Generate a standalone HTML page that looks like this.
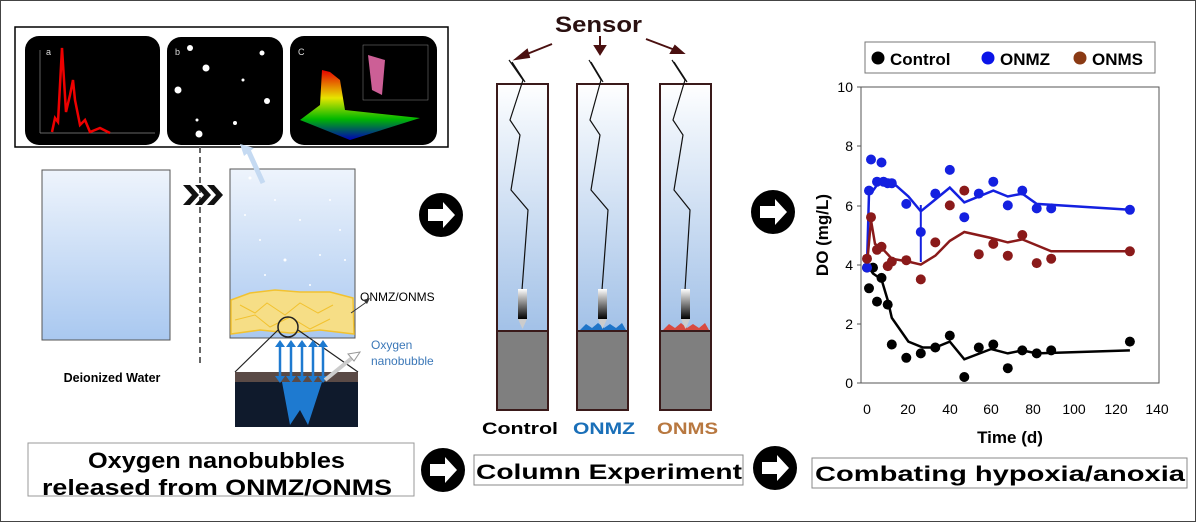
<!DOCTYPE html>
<html><head><meta charset="utf-8"><style>
html,body{margin:0;padding:0;background:#fff}
svg{display:block;font-family:"Liberation Sans",sans-serif}
</style></head><body>
<svg width="1196" height="531" viewBox="0 0 1196 531" xmlns="http://www.w3.org/2000/svg">
<defs>
<linearGradient id="wg" x1="0" y1="0" x2="0" y2="1"><stop offset="0" stop-color="#eef4fc"/><stop offset="1" stop-color="#a9c8f0"/></linearGradient>
<linearGradient id="cg" x1="0" y1="0" x2="0" y2="1"><stop offset="0" stop-color="#ffffff"/><stop offset="0.12" stop-color="#eef4fb"/><stop offset="1" stop-color="#86aee0"/></linearGradient>
<linearGradient id="pg" x1="0" y1="0" x2="0" y2="1"><stop offset="0" stop-color="#fff"/><stop offset="1" stop-color="#000"/></linearGradient>
<linearGradient id="mg" x1="0" y1="0" x2="0" y2="1"><stop offset="0" stop-color="#f00"/><stop offset="0.4" stop-color="#ff0"/><stop offset="0.7" stop-color="#0c0"/><stop offset="1" stop-color="#00c"/></linearGradient>
<g id="arr"><circle r="22" fill="#000"/><path d="M-13,-6 H2 V-13 L14,0 L2,13 V6 H-13Z" fill="#fff"/></g>
</defs>
<rect x="0.5" y="0.5" width="1195" height="521" fill="#fff" stroke="#444"/>
<!-- top image strip -->
<rect x="15" y="27" width="433" height="120" fill="#fff" stroke="#000" stroke-width="1.5"/>
<rect x="25" y="36" width="135" height="109" rx="14" fill="#000"/>
<rect x="167" y="37" width="116" height="108" rx="14" fill="#000"/>
<rect x="290" y="36" width="147" height="109" rx="14" fill="#000"/>
<text x="46" y="55" fill="#ddd" font-size="9">a</text>
<text x="175" y="55" fill="#ddd" font-size="9">b</text>
<text x="298" y="55" fill="#ddd" font-size="9">C</text>
<path d="M40,133 H155 M40,133 V50" stroke="#888" stroke-width="0.7"/>
<path d="M52,132 L55,118 L58,122 L62,48 L66,112 L70,95 L73,80 L75,100 L80,125 L85,120 L90,132 L100,128 L110,133" stroke="#e00" stroke-width="2.5" fill="none"/>
<g fill="#fff"><circle cx="190" cy="48" r="3"/><circle cx="206" cy="68" r="3.5"/><circle cx="178" cy="90" r="3.5"/><circle cx="262" cy="53" r="2.5"/><circle cx="267" cy="101" r="3"/><circle cx="235" cy="123" r="2"/><circle cx="199" cy="134" r="3.5"/><circle cx="243" cy="80" r="1.5"/><circle cx="197" cy="120" r="1.5"/></g>
<path d="M300,120 L320,105 L322,70 L330,72 L340,80 L345,110 L420,118 L350,140Z" fill="url(#mg)" opacity="0.9"/>
<rect x="363" y="45" width="65" height="55" fill="none" stroke="#888" stroke-width="0.5"/>
<path d="M368,55 L385,60 L382,95 L372,90Z" fill="#f7b" opacity="0.8"/>
<line x1="200" y1="147" x2="200" y2="366" stroke="#666" stroke-width="2" stroke-dasharray="6,4"/>
<rect x="42" y="170" width="128" height="170" fill="url(#wg)" stroke="#555"/>
<text x="112" y="382" font-size="12.5" font-weight="bold" text-anchor="middle">Deionized Water</text>
<g fill="#111"><path d="M183,185 h7 l9,10 l-9,10 h-7 l9,-10z"/><path d="M195,185 h7 l9,10 l-9,10 h-7 l9,-10z"/><path d="M207,185 h7 l9,10 l-9,10 h-7 l9,-10z"/></g>
<rect x="230" y="169" width="125" height="169" fill="url(#wg)" stroke="#555"/>
<g fill="#fff"><circle cx="250" cy="178" r="1.5"/><circle cx="275" cy="200" r="1"/><circle cx="300" cy="220" r="1"/><circle cx="260" cy="240" r="1"/><circle cx="320" cy="255" r="1"/><circle cx="285" cy="260" r="1.5"/><circle cx="340" cy="230" r="1"/><circle cx="265" cy="275" r="1"/><circle cx="310" cy="285" r="1"/><circle cx="345" cy="260" r="1"/><circle cx="245" cy="215" r="1"/><circle cx="330" cy="200" r="1"/></g>
<line x1="263" y1="183" x2="248" y2="150" stroke="#c5daf2" stroke-width="5"/>
<path d="M240,144 L254,148 L244,156Z" fill="#c5daf2"/>
<path d="M231,300 L250,293 L275,290 L300,292 L330,292 L353,298 L354,334 L320,330 L290,333 L260,330 L231,334Z" fill="#f6de86" stroke="#f2c230" stroke-width="1.5"/>
<path d="M240,305 l15,8 l12,-10 l18,12 l15,-12 l18,10 l15,-8 M235,320 l20,-5 l15,12 l20,-10 l20,12 l20,-10" stroke="#f2c230" fill="none"/>
<circle cx="288" cy="327" r="10" fill="none" stroke="#222" stroke-width="1.5"/>
<path d="M278,330 L235,372 M298,330 L358,372" stroke="#222" stroke-width="1.2"/>
<text x="360" y="301" font-size="12">ONMZ/ONMS</text>
<line x1="351" y1="313" x2="368" y2="301" stroke="#333"/>
<path d="M370,298 l-7,2 l4,4z" fill="#333"/>
<rect x="235" y="372" width="123" height="55" fill="#0f1a2c"/>
<rect x="235" y="372" width="123" height="10" fill="#5a4a46"/>
<path d="M282,382 L290,425 L300,410 L308,425 L322,382Z" fill="#1e7ad0"/>
<g stroke="#1e7ad0" stroke-width="2.5">
<line x1="280" y1="345" x2="280" y2="378"/><line x1="291" y1="345" x2="291" y2="378"/><line x1="302" y1="345" x2="302" y2="378"/><line x1="313" y1="345" x2="313" y2="378"/><line x1="323" y1="345" x2="323" y2="378"/>
</g>
<g fill="#1e7ad0"><path d="M275,347 l5,-7 l5,7z M286,347 l5,-7 l5,7z M297,347 l5,-7 l5,7z M308,347 l5,-7 l5,7z M318,347 l5,-7 l5,7z M275,376 l5,7 l5,-7z M286,376 l5,7 l5,-7z M297,376 l5,7 l5,-7z M308,376 l5,7 l5,-7z M318,376 l5,7 l5,-7z"/></g>
<line x1="325" y1="380" x2="352" y2="358" stroke="#ccc" stroke-width="4"/>
<path d="M360,352 l-12,2 l6,7z" fill="#fff" stroke="#999"/>
<text x="371" y="349" font-size="12" fill="#3c78b8">Oxygen</text>
<text x="371" y="365" font-size="12" fill="#3c78b8">nanobubble</text>
<rect x="28" y="443" width="386" height="53" fill="#fff" stroke="#999"/>
<text x="88" y="468" font-size="22" font-weight="bold" textLength="257" lengthAdjust="spacingAndGlyphs">Oxygen nanobubbles</text>
<text x="42" y="495" font-size="22" font-weight="bold" textLength="350" lengthAdjust="spacingAndGlyphs">released from ONMZ/ONMS</text>
<use href="#arr" x="441" y="215"/>
<use href="#arr" x="773" y="212"/>
<use href="#arr" x="443" y="470"/>
<use href="#arr" x="775" y="468"/>
<text x="555" y="32" font-size="22" font-weight="bold" fill="#2a1010" textLength="87" lengthAdjust="spacingAndGlyphs">Sensor</text>
<g stroke="#4a1010" stroke-width="2" fill="#4a1010">
<line x1="552" y1="44" x2="522" y2="56"/><path d="M516,59 l11,-9 l2,7z"/>
<line x1="600" y1="36" x2="600" y2="48"/><path d="M595,46 h10 l-5,8z"/>
<line x1="646" y1="39" x2="675" y2="50"/><path d="M683,53 l-12,0 l4,-7z"/>
</g>
<g stroke="#3a1a1a" stroke-width="2">
<rect x="497" y="84" width="51" height="326" fill="url(#cg)"/>
<rect x="577" y="84" width="51" height="326" fill="url(#cg)"/>
<rect x="660" y="84" width="51" height="326" fill="url(#cg)"/>
</g>
<rect x="497" y="331" width="51" height="79" fill="#7f7f7f" stroke="#3a1a1a" stroke-width="2"/>
<rect x="577" y="331" width="51" height="79" fill="#7f7f7f" stroke="#3a1a1a" stroke-width="2"/>
<rect x="660" y="331" width="51" height="79" fill="#7f7f7f" stroke="#3a1a1a" stroke-width="2"/>
<path d="M580,330 l6,-6 l6,4 l6,-5 l6,5 l6,-4 l6,4 l6,-5 l4,7z" fill="#1e74c8"/>
<path d="M663,330 l6,-6 l6,4 l6,-5 l6,5 l6,-4 l6,4 l6,-5 l4,7z" fill="#d84a40"/>
<g fill="none" stroke="#111" stroke-width="1.2">
<path d="M509,60 L523,80 L510,120 L520,135 L511,190 L528,210 L522,290 M512,62 L525,82"/>
<path d="M589,60 L601,80 L590,120 L600,135 L591,190 L608,210 L602,290 M591,62 L603,82"/>
<path d="M672,60 L685,80 L673,120 L683,135 L674,190 L690,210 L685,290 M674,62 L687,82"/>
</g>
<rect x="518" y="289" width="9" height="30" fill="url(#pg)"/><path d="M518,319 h9 l-4.5,10z" fill="#ccc"/>
<rect x="598" y="289" width="9" height="30" fill="url(#pg)"/><path d="M598,319 h9 l-4.5,10z" fill="#ccc"/>
<rect x="681" y="289" width="9" height="30" fill="url(#pg)"/><path d="M681,319 h9 l-4.5,10z" fill="#ccc"/>
<text x="482" y="434" font-size="17" font-weight="bold" textLength="76" lengthAdjust="spacingAndGlyphs">Control</text>
<text x="573" y="434" font-size="17" font-weight="bold" fill="#1a6fb8" textLength="62" lengthAdjust="spacingAndGlyphs">ONMZ</text>
<text x="657" y="434" font-size="17" font-weight="bold" fill="#b87840" textLength="61" lengthAdjust="spacingAndGlyphs">ONMS</text>
<rect x="474" y="455" width="269" height="30" fill="#fff" stroke="#888"/>
<text x="476" y="479" font-size="21" font-weight="bold" textLength="266" lengthAdjust="spacingAndGlyphs">Column Experiment</text>
<rect x="812" y="458" width="375" height="30" fill="#fff" stroke="#888"/>
<text x="815" y="481" font-size="21" font-weight="bold" textLength="370" lengthAdjust="spacingAndGlyphs">Combating hypoxia/anoxia</text>
<!-- chart -->
<rect x="865" y="42" width="290" height="31" fill="#fff" stroke="#777"/>
<circle cx="878" cy="58" r="6.5" fill="#000"/><text x="890" y="65" font-size="17" font-weight="bold">Control</text>
<circle cx="988" cy="58" r="6.5" fill="#0a14e8"/><text x="1000" y="65" font-size="17" font-weight="bold">ONMZ</text>
<circle cx="1080" cy="58" r="6.5" fill="#8a3a14"/><text x="1092" y="65" font-size="17" font-weight="bold">ONMS</text>
<rect x="861" y="87" width="298" height="296" fill="none" stroke="#555"/>
<g stroke="#555"><line x1="857" y1="87" x2="861" y2="87"/><line x1="857" y1="146" x2="861" y2="146"/><line x1="857" y1="206" x2="861" y2="206"/><line x1="857" y1="265" x2="861" y2="265"/><line x1="857" y1="324" x2="861" y2="324"/><line x1="857" y1="383" x2="861" y2="383"/></g>
<g font-size="14" text-anchor="end"><text x="853" y="92">10</text><text x="853" y="151">8</text><text x="853" y="211">6</text><text x="853" y="270">4</text><text x="853" y="329">2</text><text x="853" y="388">0</text></g>
<g font-size="14" text-anchor="middle"><text x="867" y="414">0</text><text x="908" y="414">20</text><text x="950" y="414">40</text><text x="991" y="414">60</text><text x="1033" y="414">80</text><text x="1074" y="414">100</text><text x="1116" y="414">120</text><text x="1157" y="414">140</text></g>
<text x="1010" y="443" font-size="17" font-weight="bold" text-anchor="middle">Time (d)</text>
<text transform="translate(828,235) rotate(-90)" font-size="17" font-weight="bold" text-anchor="middle">DO (mg/L)</text>
<polyline fill="none" stroke="#000" stroke-width="2.5" points="867,264.6 873,273.5 881.5,279.4 887.7,300.1 891.8,317.9 908.4,341.6 922.9,347.5 935.3,347.5 949.8,341.6 964.3,359.3 991.2,349 1007.8,353.4 1022.3,350.4 1036.7,353.4 1129.9,350.4"/>
<polyline fill="none" stroke="#1420e0" stroke-width="2.5" points="867,264.6 869,193.6 873,190.6 881.5,178.8 891.8,181.7 908.4,196.5 920.8,211.3 935.3,199.5 949.8,187.6 964.3,202.4 993.3,190.6 1007.8,196.5 1022.3,193.6 1036.7,203.9 1129.9,209.8"/>
<polyline fill="none" stroke="#8a1a1a" stroke-width="2.5" points="867,264.6 871,220.2 875,243.9 883.5,249.8 891.8,258.7 908.4,261.6 920.8,264.6 935.3,255.7 949.8,240.9 964.3,232 991.2,238 1007.8,242.4 1022.3,239.4 1051.2,251.3 1129.9,251.3"/>
<line x1="920.8" y1="205" x2="920.8" y2="262" stroke="#1420e0" stroke-width="2"/>
<g fill="#000"><circle cx="867" cy="267.6" r="5"/><circle cx="869" cy="288.3" r="5"/><circle cx="873" cy="267.6" r="5"/><circle cx="877" cy="301.6" r="5"/><circle cx="881.5" cy="277.9" r="5"/><circle cx="887.7" cy="304.6" r="5"/><circle cx="891.8" cy="344.5" r="5"/><circle cx="906.3" cy="357.8" r="5"/><circle cx="920.8" cy="353.4" r="5"/><circle cx="935.3" cy="347.5" r="5"/><circle cx="949.8" cy="335.6" r="5"/><circle cx="964.3" cy="377" r="5"/><circle cx="978.8" cy="347.5" r="5"/><circle cx="993.3" cy="344.5" r="5"/><circle cx="1007.8" cy="368.2" r="5"/><circle cx="1022.3" cy="350.4" r="5"/><circle cx="1036.7" cy="353.4" r="5"/><circle cx="1051.2" cy="350.4" r="5"/><circle cx="1129.9" cy="341.6" r="5"/></g>
<g fill="#1420e0"><circle cx="867" cy="267.6" r="5"/><circle cx="869" cy="190.6" r="5"/><circle cx="871" cy="159.5" r="5"/><circle cx="877" cy="181.7" r="5"/><circle cx="881.5" cy="162.5" r="5"/><circle cx="883.5" cy="181.7" r="5"/><circle cx="887.7" cy="183.2" r="5"/><circle cx="891.8" cy="183.2" r="5"/><circle cx="906.3" cy="203.9" r="5"/><circle cx="920.8" cy="232" r="5"/><circle cx="935.3" cy="193.6" r="5"/><circle cx="949.8" cy="169.9" r="5"/><circle cx="964.3" cy="217.2" r="5"/><circle cx="978.8" cy="193.6" r="5"/><circle cx="993.3" cy="181.7" r="5"/><circle cx="1007.8" cy="205.4" r="5"/><circle cx="1022.3" cy="190.6" r="5"/><circle cx="1036.7" cy="208.4" r="5"/><circle cx="1051.2" cy="208.4" r="5"/><circle cx="1129.9" cy="209.8" r="5"/></g>
<g fill="#8a1a1a"><circle cx="867" cy="258.7" r="5"/><circle cx="871" cy="217.2" r="5"/><circle cx="877" cy="249.8" r="5"/><circle cx="881.5" cy="246.8" r="5"/><circle cx="887.7" cy="266.1" r="5"/><circle cx="891.8" cy="261.6" r="5"/><circle cx="906.3" cy="260.2" r="5"/><circle cx="920.8" cy="279.4" r="5"/><circle cx="935.3" cy="242.4" r="5"/><circle cx="949.8" cy="205.4" r="5"/><circle cx="964.3" cy="190.6" r="5"/><circle cx="978.8" cy="254.2" r="5"/><circle cx="993.3" cy="243.9" r="5"/><circle cx="1007.8" cy="255.7" r="5"/><circle cx="1022.3" cy="235" r="5"/><circle cx="1036.7" cy="263.1" r="5"/><circle cx="1051.2" cy="258.7" r="5"/><circle cx="1129.9" cy="251.3" r="5"/></g>
</svg>
</body></html>
